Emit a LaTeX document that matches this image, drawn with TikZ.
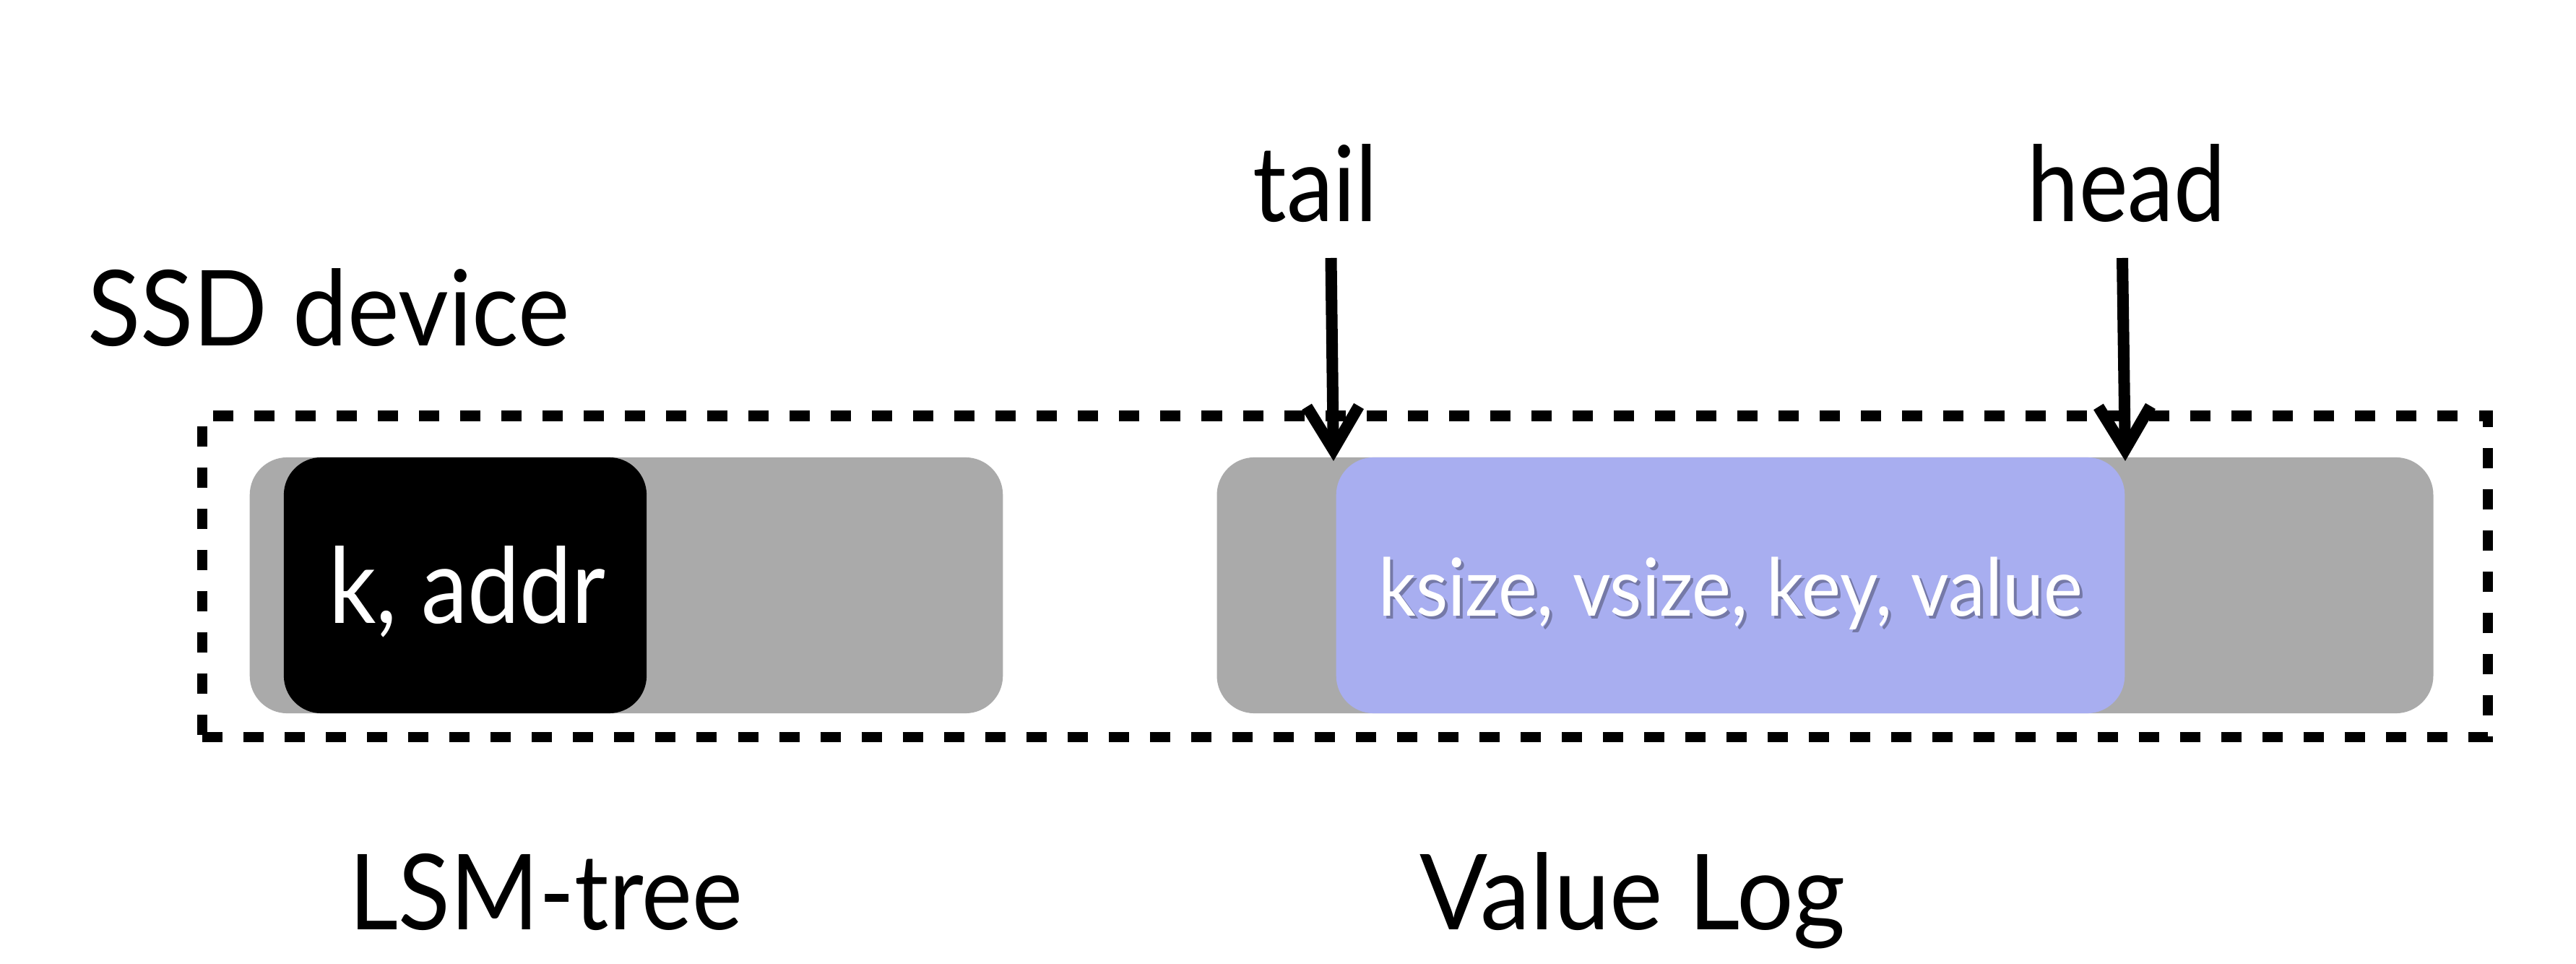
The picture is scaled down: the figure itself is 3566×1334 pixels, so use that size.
\documentclass[tikz,border=0pt]{standalone}
\usepackage{fontspec}
\setmainfont{Lato}
\usepackage{graphicx}
\usetikzlibrary{arrows.meta}
\definecolor{boxgray}{RGB}{170,170,170}
\definecolor{logblue}{RGB}{168,174,240}
\newcommand\fitw[2]{\resizebox{#1}{\height}{#2}}
\begin{document}
\begin{tikzpicture}[x=0.01cm,y=-0.01cm,
  lbl/.style={inner sep=0pt, outer sep=0pt, anchor=base, font=\fontsize{41.3}{45}\selectfont},
  small/.style={inner sep=0pt, outer sep=0pt, anchor=base, font=\fontsize{31.5}{34}\selectfont},
  seg/.style={fill=boxgray, rounded corners=0.52cm, inner sep=0pt, outer sep=0pt, minimum height=3.54cm},
  ptr/.style={line width=0.16cm, -{Straight Barb[length=0.6cm,width=0.72cm]}},
  dev/.style={draw, line width=0.145cm, dash pattern=on 0.28cm off 0.29cm, inner sep=0pt, outer sep=0pt}
]
\useasboundingbox (0,0) rectangle (3566,1334);

% device frame
\node[dev, minimum width=31.62cm, minimum height=4.445cm] (ssd) at (1862,797.75) {};

% LSM-tree segment
\node[seg, minimum width=10.42cm] (lsm) at (867,810) {};
\node[seg, fill=black, minimum width=5.02cm] (kaddr) at (644,810) {};
\node[lbl, text=white] (kaddrtxt) at (647,863) {\fitw{3.83cm}{k, addr}};

% Value log segment
\node[seg, minimum width=16.83cm] (vlog) at (2526.5,810) {};
\node[seg, fill=logblue, minimum width=10.91cm] (entry) at (2395.5,810) {};
\node[small, text=black, opacity=0.3] (entryshadow) at (2399.5,857) {\fitw{9.74cm}{ksize, vsize, key, value}};
\node[small, text=white] (entrytxt) at (2395.5,853) {\fitw{9.74cm}{ksize, vsize, key, value}};

% labels
\node[lbl, anchor=base west] (ssdlbl) at (121,479) {\fitw{6.67cm}{SSD device}};
\node[lbl] (lsmlbl) at (756,1286) {\fitw{5.44cm}{LSM-tree}};
\node[lbl] (vloglbl) at (2260,1286) {\fitw{5.89cm}{Value Log}};
\node[lbl] (taillbl) at (1821,307) {\fitw{1.73cm}{tail}};
\node[lbl] (headlbl) at (2944,307) {\fitw{2.74cm}{head}};

% pointers
\coordinate (tailstart) at (1842.5,357);
\coordinate (tailtip) at (1846,638);
\coordinate (headstart) at (2938,357);
\coordinate (headtip) at (2942,638);
\draw[ptr] (tailstart) -- (tailtip);
\draw[ptr] (headstart) -- (headtip);
\end{tikzpicture}
\end{document}
